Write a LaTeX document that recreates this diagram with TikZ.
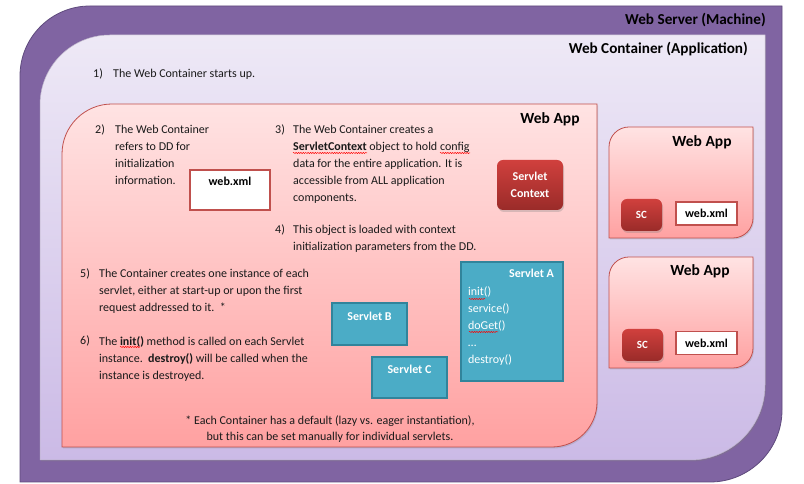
\documentclass[tikz,border=0pt]{standalone}
\usepackage{fontspec}
\setmainfont{Carlito}
\usepackage{tikz}
\usetikzlibrary{positioning,shadows,decorations.pathmorphing}

\definecolor{serverpurple}{HTML}{8064A2}
\definecolor{serveredge}{HTML}{5E4A7C}
\definecolor{contop}{HTML}{EEE9F6}
\definecolor{conbot}{HTML}{CBBAE6}
\definecolor{apptop}{HTML}{FFE3E3}
\definecolor{appbot}{HTML}{FFA1A1}
\definecolor{appedge}{HTML}{C0504D}
\definecolor{ctxtop}{HTML}{D0403D}
\definecolor{ctxbot}{HTML}{9A2B29}
\definecolor{srvfill}{HTML}{4BACC6}
\definecolor{srvedge}{HTML}{31849B}
\definecolor{txt}{HTML}{1A1A1A}

% left, top, right, bottom, top-left radius, bottom-right radius
\newcommand{\cornerbox}[6]{(#1,#4) -- (#1,#2-#5) arc[start angle=180,end angle=90,radius=#5] -- (#3,#2) -- (#3,#4+#6) arc[start angle=0,end angle=-90,radius=#6] -- cycle}

\begin{document}
\begin{tikzpicture}[x=1pt,y=1pt,
    num/.style={font=\fontsize{12}{17}\selectfont, text=txt, inner sep=0pt, anchor=base west},
    itemtext/.style={font=\fontsize{12}{17}\selectfont, text=txt, inner sep=0pt, anchor=north west, align=left},
    bigtitle/.style={font=\bfseries\fontsize{15.2}{18}\selectfont, text=black, inner sep=0pt, anchor=east},
    apptitle/.style={font=\bfseries\fontsize{15.5}{18}\selectfont, text=black, inner sep=0pt},
    appshape/.style={top color=apptop, bottom color=appbot, draw=appedge, line width=0.8pt,
        drop shadow={opacity=0.25, shadow xshift=1pt, shadow yshift=-1.5pt}},
    xmlbox/.style={draw=appedge, line width=1.6pt, fill=white, inner sep=0pt},
    xmllabel/.style={font=\bfseries\fontsize{12}{14}\selectfont, text=black, inner sep=0pt},
    ctxbutton/.style={rounded corners=6pt, top color=ctxtop, bottom color=ctxbot, text=white,
        font=\bfseries\fontsize{12}{17}\selectfont, align=center, inner sep=0pt,
        drop shadow={opacity=0.3, shadow xshift=1pt, shadow yshift=-2pt}},
    servletbox/.style={draw=srvedge, line width=2.2pt, fill=srvfill, inner sep=0pt},
    servlettitle/.style={font=\bfseries\fontsize{12}{14}\selectfont, text=white, inner sep=0pt},
    methods/.style={font=\fontsize{12}{17}\selectfont, text=white, inner sep=0pt, align=left},
    squiggle/.style={draw=red, line width=0.5pt, decorate,
        decoration={snake, amplitude=0.6pt, segment length=2.4pt}}]

\useasboundingbox (0,0) rectangle (804,484);

\filldraw[fill=serverpurple, draw=serveredge, line width=0.8pt] \cornerbox{20}{478}{782}{2}{70}{72};
\path[top color=contop, bottom color=conbot, draw=serveredge!40, line width=0.5pt,
    drop shadow={opacity=0.3, shadow xshift=1pt, shadow yshift=-1.5pt}] \cornerbox{40}{449}{765}{24}{70}{75};

\path[appshape] \cornerbox{62}{380}{597}{37}{50}{45};
\path[appshape] \cornerbox{609}{357}{753}{246}{20}{20};
\path[appshape] \cornerbox{609}{227}{753}{116}{20}{20};

\node[bigtitle] (server) at (766,464) {Web Server (Machine)};
\node[bigtitle] (container) at (748,435) {Web Container (Application)};

\node[num] (n1) at (93,406) {1)};
\node[itemtext] (t1) at (113,415) {The Web Container starts up.};

\node[apptitle] (app) at (550,365) {Web App};
\node[apptitle] (appb) at (702,342) {Web App};
\node[apptitle] (appc) at (700,213) {Web App};

\node[num] (n2) at (95,350) {2)};
\node[itemtext] (t2) at (115,359) {The Web Container\\refers to DD for\\initialization\\information.};
\node[xmlbox, minimum width=80pt, minimum height=40pt] (xml) at (230,294) {};
\node[xmllabel, below=8pt of xml.north] (xmltext) {web.xml};

\node[num] (n3) at (275,350) {3)};
\node[itemtext] (t3) at (293,359) {The Web Container creates a\\\textbf{ServletContext} object to hold config\\data for the entire application. It is\\accessible from ALL application\\components.};
\node[ctxbutton, minimum width=66pt, minimum height=50pt] (ctx) at (530,299) {Servlet\\Context};

\node[num] (n4) at (275,250) {4)};
\node[itemtext] (t4) at (293,259) {This object is loaded with context\\initialization parameters from the DD.};

\node[num] (n5) at (80,206) {5)};
\node[itemtext] (t5) at (99,215) {The Container creates one instance of each\\servlet, either at start-up or upon the first\\request addressed to it.\ \ *};

\node[num] (n6) at (80,139) {6)};
\node[itemtext] (t6) at (99,148) {The \textbf{init()} method is called on each Servlet\\instance.\ \ \textbf{destroy()} will be called when the\\instance is destroyed.};

\node[itemtext, align=center, anchor=north, font=\fontsize{12}{16}\selectfont] (note) at (330,68) {* Each Container has a default (lazy vs. eager instantiation),\\but this can be set manually for individual servlets.};

\node[servletbox, minimum width=75pt, minimum height=42pt] (srvb) at (369.5,160) {};
\node[servlettitle, below=10pt of srvb.north] (srvbtext) {Servlet B};
\node[servletbox, minimum width=75pt, minimum height=41pt] (srvc) at (409.5,106.5) {};
\node[servlettitle, below=9pt of srvc.north] (srvctext) {Servlet C};
\node[servletbox, minimum width=102pt, minimum height=119pt] (srva) at (512,162.5) {};
\node[servlettitle, below left=8pt and 10pt of srva.north east] (srvatext) {Servlet A};
\node[methods, below right=26pt and 8pt of srva.north west] (srvalist) {init()\\service()\\doGet()\\\dots\\destroy()};

\node[ctxbutton, minimum width=41pt, minimum height=32pt, font=\bfseries\fontsize{11}{13}\selectfont] (scb) at (641.5,269) {SC};
\node[xmlbox, minimum width=61pt, minimum height=23pt, font=\bfseries\fontsize{12}{14}\selectfont] (xmlb) at (706.5,270.5) {web.xml};
\node[ctxbutton, minimum width=41pt, minimum height=32pt, font=\bfseries\fontsize{11}{13}\selectfont] (scc) at (642.5,139) {SC};
\node[xmlbox, minimum width=61pt, minimum height=23pt, font=\bfseries\fontsize{12}{14}\selectfont] (xmlc) at (706.5,141) {web.xml};

\draw[squiggle] (293,331) -- (367,331);
\draw[squiggle] (440,331) -- (470,331);
\draw[squiggle] (120,137) -- (140,137);
\draw[squiggle] (469,185) -- (485,185);
\draw[squiggle] (469,152) -- (498,152);
\end{tikzpicture}
\end{document}
